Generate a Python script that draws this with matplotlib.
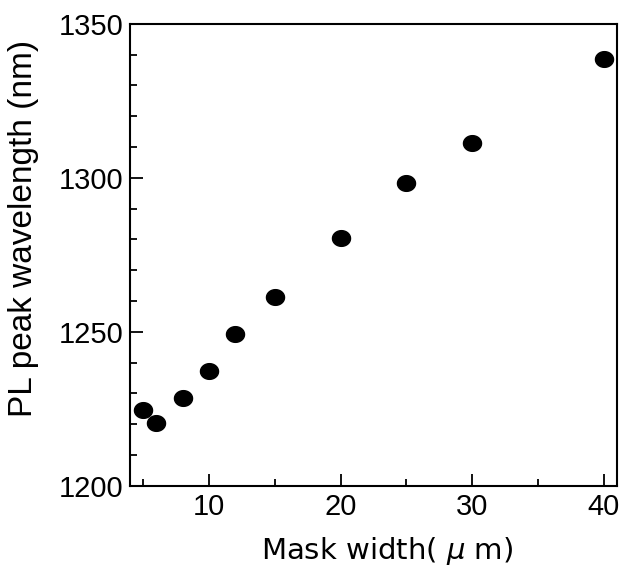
import matplotlib
matplotlib.use("Agg")
import matplotlib.pyplot as plt
from matplotlib.ticker import MultipleLocator
from matplotlib.path import Path
import numpy as np

mask_width = [5, 6, 8, 10, 12, 15, 20, 25, 30, 40]
pl_peak = [1224.7, 1220.5, 1228.6, 1237.3, 1249.4, 1261.4, 1280.6, 1298.4, 1311.4, 1338.6]

x_ticks = [10, 20, 30, 40]
y_ticks = [1200, 1250, 1300, 1350]

# ellipse-shaped marker (slightly wider than tall)
t = np.linspace(0, 2 * np.pi, 60)
ell = Path(np.column_stack([1.15 * np.cos(t), np.sin(t)]), closed=True)

plt.rcParams['font.family'] = ['Liberation Sans', 'Noto Sans CJK JP', 'DejaVu Sans']
plt.rcParams['mathtext.fontset'] = 'custom'
plt.rcParams['mathtext.it'] = 'DejaVu Sans:italic'

fig = plt.figure(figsize=(6.22, 5.67), dpi=100)
ax = fig.add_axes([0.209, 0.143, 0.783, 0.815])

ax.plot(mask_width, pl_peak, linestyle='none', marker=ell, markersize=13,
        color='black')

ax.set_xlim(4, 41)
ax.set_ylim(1200, 1350)
ax.set_xticks(x_ticks)
ax.set_yticks(y_ticks)
ax.xaxis.set_minor_locator(MultipleLocator(5))
ax.yaxis.set_minor_locator(MultipleLocator(10))
ax.tick_params(which='major', direction='in', length=9, width=1.3,
               labelsize=21)
ax.tick_params(axis='x', which='major', pad=5)
ax.tick_params(axis='y', which='major', pad=5)
ax.tick_params(which='minor', direction='in', length=5, width=1.3)
for s in ax.spines.values():
    s.set_linewidth(1.5)

fig.text(387 / 622, 1 - 551 / 567, 'Mask width( $\\mu$ m)', fontsize=21,
         family='DejaVu Sans', ha='center', va='center')
fig.text(24 / 622, 1 - 228 / 567, 'PL peak wavelength (nm)', fontsize=24,
         rotation=90, ha='center', va='center')

fig.savefig('out.png', dpi=100)
